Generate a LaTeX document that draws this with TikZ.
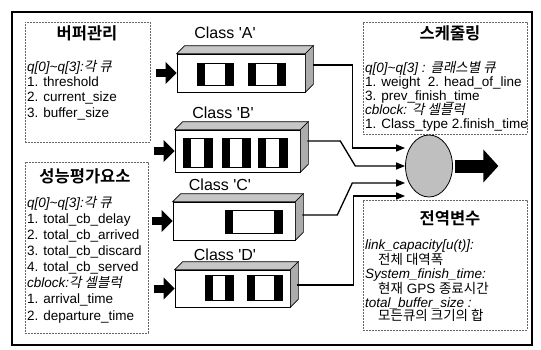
\documentclass[tikz,border=0pt]{standalone}
\usepackage{fontspec}
\setmainfont{Liberation Sans}
\newfontfamily\krfont{Noto Sans CJK KR}[BoldFont={Noto Sans CJK KR Bold}, AutoFakeSlant=0.2]
\newcommand\kr[1]{{\krfont #1}}
\usetikzlibrary{calc}
\usetikzlibrary{arrows.meta, shapes.geometric}

\begin{document}
\begin{tikzpicture}[
  x=1pt, y=-1pt,
  font=\fontsize{13.5}{15}\selectfont,
  frame/.style={draw, line width=1.5pt},
  infobox/.style={draw=black!60, dash pattern=on 2pt off 1pt, line width=0.5pt, inner sep=0pt},
  title/.style={font=\fontsize{16.5}{18}\selectfont\krfont\bfseries, inner sep=0pt},
  body/.style={align=left, anchor=north west, inner sep=0pt},
  cls/.style={font=\fontsize{16}{18}\selectfont, inner sep=0pt},
  queue/.style={draw, line width=0.6pt, fill=white, inner sep=0pt},
  topface/.style={draw, line width=0.6pt, fill=gray!45},
  sideface/.style={draw, line width=0.6pt, fill=gray!65},
  qcell/.style={draw, line width=0.6pt},
  bar/.style={fill=black},
  feedin/.style={line width=8pt, -{Triangle[length=11pt,width=21pt]}},
  feed/.style={line width=1.3pt, -{Triangle[length=9pt,width=7pt]}},
  server/.style={ellipse, draw, line width=0.8pt, fill=gray!50,
                 minimum width=47pt, minimum height=62pt, inner sep=0pt},
  outarrow/.style={line width=13pt, -{Triangle[length=15pt,width=32pt]}}
]
\useasboundingbox (0,0) rectangle (541,349);

%% ---------- outer frame ----------
\draw[frame] (12,12) rectangle (532,345);

%% ---------- info boxes ----------
\node[infobox, minimum width=125pt, minimum height=120pt] (buf)   at (87.5,82)   {};
\node[infobox, minimum width=123pt, minimum height=171pt] (perf)  at (86.5,247.5) {};
\node[infobox, minimum width=164pt, minimum height=112pt] (sched) at (445,78)    {};
\node[infobox, minimum width=164pt, minimum height=130pt] (glob)  at (445,265)   {};

\node[title] (bufT)   at (87,33)   {버퍼관리};
\node[title] (perfT)  at (85,176)  {성능평가요소};
\node[title] (schedT) at (450,33)  {스케줄링};
\node[title] (globT)  at (450,218) {전역변수};

\node[body, font=\fontsize{13.5}{15.3}\selectfont] (bufB) at (27,60)
  {\textit{q[0]\textasciitilde q[3]:\kr{각 큐}}\\ 1. threshold\\ 2. current\_size\\ 3. buffer\_size};
\node[body, font=\fontsize{13.5}{16.1}\selectfont] (perfB) at (27,196)
  {\textit{q[0]\textasciitilde q[3]:\kr{각 큐}}\\ 1. total\_cb\_delay\\ 2. total\_cb\_arrived\\
   3. total\_cb\_discard\\ 4. total\_cb\_served\\ \textit{cblock:\kr{각 셀블럭}}\\
   1. arrival\_time\\ 2. departure\_time};
\node[body, font=\fontsize{13.5}{14}\selectfont] (schedB) at (365,61)
  {\textit{q[0]\textasciitilde q[3] : \kr{클래스별 큐}}\\ 1. weight~~2. head\_of\_line\\
   3. prev\_finish\_time\\ \textit{cblock: \kr{각 셀블럭}}\\ 1. Class\_type 2.finish\_time};
\node[body, font=\fontsize{13.5}{13.6}\selectfont] (globB) at (365,240)
  {\textit{link\_capacity[u(t)]:}\\ \hspace*{13pt}\kr{전체 대역폭}\\
   \textit{System\_finish\_time:}\\ \hspace*{13pt}\kr{현재} GPS \kr{종료시간}\\
   \textit{total\_buffer\_size :}\\ \hspace*{13pt}\kr{모든큐의 크기의 합}};

%% ---------- class queues ----------
\node[queue, minimum width=128pt, minimum height=38pt] (classA) at (241,73)    {};
\node[queue, minimum width=125pt, minimum height=42pt] (classB) at (237.5,151) {};
\node[queue, minimum width=122pt, minimum height=38pt] (classC) at (234,221)   {};
\node[queue, minimum width=115pt, minimum height=37pt] (classD) at (232.5,288.5) {};

\foreach \q in {classA,classB,classC,classD}{
  \draw[topface] (\q.north west) -- ++(8,-8) -- ($(\q.north east)+(8,-8)$)
    -- (\q.north east) -- cycle;
  \draw[sideface] (\q.north east) -- ++(8,-8) -- ($(\q.south east)+(8,-8)$)
    -- (\q.south east) -- cycle;
  \draw[feedin] ([xshift=-21pt]\q.west) -- (\q.west);
}

\node[cls] (lblA) at (225,33)  {Class \textquotesingle A\textquotesingle};
\node[cls] (lblB) at (223,113) {Class \textquotesingle B\textquotesingle};
\node[cls] (lblC) at (220,185) {Class \textquotesingle C\textquotesingle};
\node[cls] (lblD) at (225,255) {Class \textquotesingle D\textquotesingle};

% cells in the queues
\foreach \xa/\xb/\ya/\yb in {197/233/63/85, 248/285/63/85,
    183/212/138/167, 222/250/138/167, 258/287/138/167,
    225/282/210/233, 205/233/275/300, 247/282/275/300}{
  \fill[bar] (\xa,\ya) rectangle (\xa+8,\yb);
  \fill[bar] (\xb-8,\ya) rectangle (\xb,\yb);
  \draw[qcell] (\xa,\ya) rectangle (\xb,\yb);
}

%% ---------- scheduler ----------
\node[server] (sfq) at (429,166) {};

\draw[feed] ([shift={(8,-8)}]classA.east) -- ++(39,0) |- (sfq.west |- 0,148);
\draw[feed] ([shift={(7,-10)}]classB.east) -- ++(33,0) -- ++(15,25) -- (sfq.west);
\draw[feed] ([shift={(7,-6)}]classC.east) -- ++(35,0) -- ++(15,-32) -- (sfq.west |- 0,183);
\draw[feed] ([shift={(7,-3.5)}]classD.east) -- ++(56,0) |- (sfq.west |- 0,196);

\draw[outarrow] ([xshift=2.5pt]sfq.east) -- ++(43,0);
\end{tikzpicture}
\end{document}
